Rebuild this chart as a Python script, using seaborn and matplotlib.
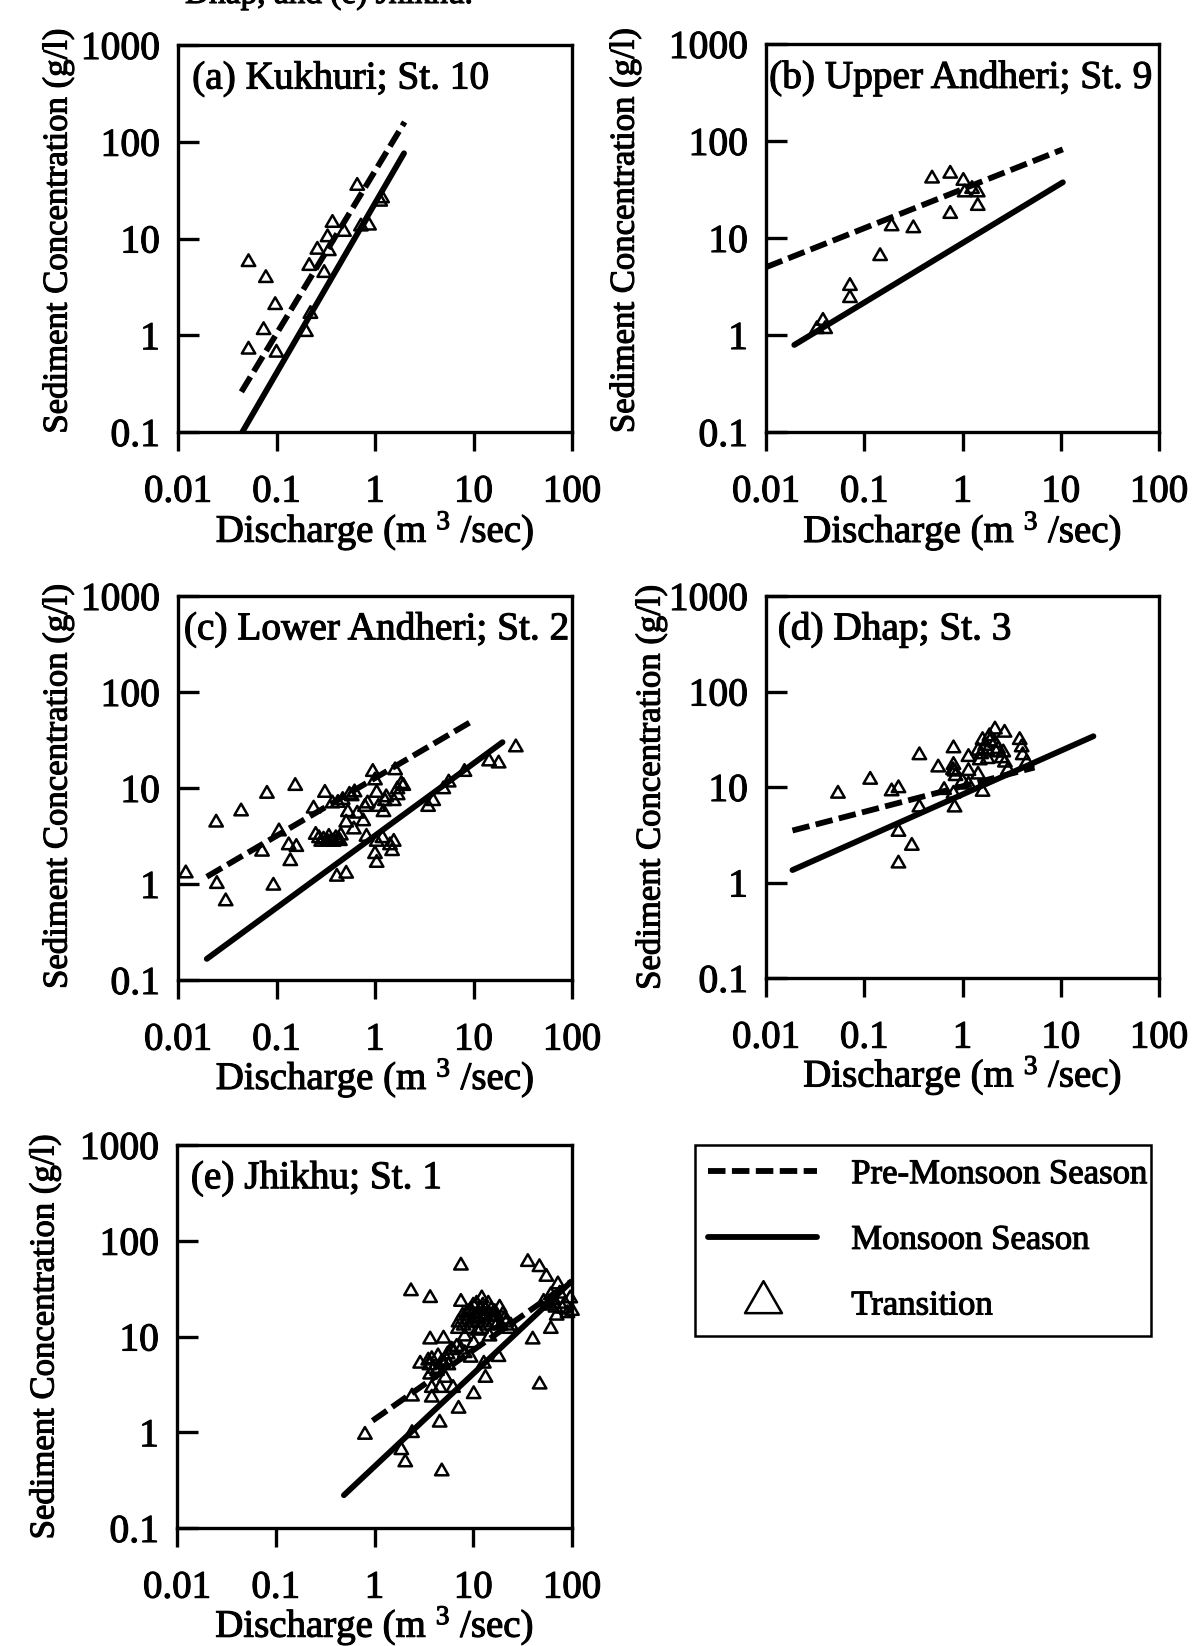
import matplotlib
matplotlib.use("Agg")
import matplotlib.pyplot as plt
import matplotlib.patheffects as pe
from matplotlib.lines import Line2D
from matplotlib.markers import MarkerStyle
from matplotlib.path import Path
from matplotlib.ticker import NullLocator
import seaborn as sns

# ---------------- data ----------------
panel_titles = ["(a) Kukhuri; St. 10", "(b) Upper Andheri; St. 9",
                "(c) Lower Andheri; St. 2", "(d) Dhap; St. 3", "(e) Jhikhu; St. 1"]

# transition-period samples: discharge (m3/s) and sediment concentration (g/l)
a_q = [0.052, 0.078, 0.097, 0.074, 0.052, 0.100, 0.199, 0.221, 0.215, 0.26,
       0.305, 0.34, 0.33, 0.37, 0.485, 0.66, 0.72, 0.87, 1.13, 1.18]
a_c = [5.7, 3.9, 2.05, 1.13, 0.71, 0.66, 1.08, 1.66, 5.2, 7.65,
       4.4, 7.4, 10.3, 14.5, 11.7, 35, 13.3, 13.6, 24, 26]

b_q = [0.033, 0.038, 0.040, 0.0715, 0.0715, 0.145, 0.19, 0.316, 0.49, 0.75,
       0.75, 1.02, 1.05, 1.25, 1.43, 1.43]
b_c = [1.15, 1.4, 1.15, 3.2, 2.4, 6.5, 13.2, 12.6, 41, 46,
       17.7, 38.8, 29.5, 32, 29.5, 21.4]

c_q = [0.012, 0.0244, 0.0248, 0.0305, 0.0437, 0.0713, 0.080, 0.093, 0.106, 0.133,
       0.138, 0.159, 0.155, 0.238, 0.25, 0.284, 0.31, 0.33, 0.37, 0.38,
       0.40, 0.41, 0.44, 0.51, 0.51, 0.53, 0.55, 0.61, 0.66, 0.76,
       0.79, 0.84, 0.82, 0.95, 1.04, 1.08, 1.04, 1.00, 1.04, 1.19,
       1.22, 1.26, 1.42, 1.49, 1.55, 1.55, 1.69, 1.94, 3.46, 3.9,
       4.94, 5.6, 8.1, 14.4, 18.0, 26.9, 1.6, 1.0,
       0.27, 0.30, 0.34, 0.36, 0.42, 0.45, 0.42, 0.47, 0.58, 0.62,
       1.7, 1.85, 1.3]
c_c = [1.29, 4.36, 1.0, 0.66, 5.7, 2.17, 8.7, 0.96, 3.53, 2.53,
       1.73, 2.43, 10.5, 6.1, 3.25, 2.75, 8.9, 2.75, 6.9, 2.75,
       3.0, 1.19, 2.8, 1.28, 4.36, 5.6, 8.5, 3.7, 5.4, 4.5,
       6.35, 6.9, 3.1, 14.7, 8.9, 6.35, 2.75, 2.05, 1.66, 3.0,
       5.6, 7.3, 2.53, 2.2, 2.75, 7.3, 9.7, 10.5, 6.35, 7.3,
       9.7, 11.4, 14.7, 18.9, 18.0, 26.5, 15.3, 12.0,
       3.0, 2.9, 3.1, 2.8, 2.9, 3.2, 7.0, 7.5, 8.2, 9.0,
       8.4, 11.0, 8.0]

d_q = [0.054, 0.115, 0.223, 0.19, 0.223, 0.305, 0.223, 0.364, 0.364, 0.566,
       0.65, 0.81, 0.81, 0.83, 0.81, 0.83, 1.0, 1.15, 1.15, 1.15,
       1.44, 1.6, 1.6, 1.8, 1.8, 1.88, 2.14, 2.14, 2.2, 2.68,
       2.6, 2.7, 2.9, 3.82, 4.0, 4.1, 4.5, 1.44,
       1.55, 1.7, 1.9, 2.3, 2.5, 1.5, 0.8, 0.85]
d_c = [8.5, 11.9, 9.7, 9.0, 3.39, 2.42, 1.58, 21.5, 6.1, 16,
       9.3, 25.4, 17, 14.5, 8.5, 6.1, 11.4, 20.6, 14.7, 10.6,
       13.5, 8.9, 31, 24, 19.6, 34, 40, 29, 23, 37,
       23, 18, 15, 31, 26, 21.5, 18, 24,
       22, 27, 30, 25, 20, 19, 15, 13]

e_q = [0.80, 1.87, 2.05, 2.34, 2.4, 3.66, 3.66, 4.57, 4.8, 2.4,
       3.5, 3.66, 3.8, 3.8, 4.3, 5.0, 5.2, 5.4, 6.25, 7.1,
       7.5, 7.5, 7.1, 7.5, 8.2, 9.4, 9.7, 10.1, 10.1, 11,
       11.5, 12.2, 12.8, 12.8, 13.3, 14.6, 15.2, 15.9, 17.3, 18,
       19, 20.6, 22.8, 7.8, 8.6, 6.0, 5.0, 35.7, 46.8, 55,
       40, 47, 61, 61, 61, 72, 80, 96, 100, 51.6,
       70, 2.9, 11, 10, 13.3, 7.0, 8.2, 9.4, 5.6, 4.6,
       8.0, 8.8, 9.2, 10.5, 11.2, 11.8, 12.5, 13.0, 13.8, 14.2,
       15.0, 16.5, 17.5, 18.5, 20, 21.5, 24, 9.0, 10.8, 12.0,
       3.6, 3.8, 4.0, 4.4, 4.8, 5.5, 6.2, 6.8,
       58, 65, 68, 75, 85, 90]
e_c = [0.94, 0.65, 0.485, 29.7, 0.98, 25.2, 9.3, 1.26, 0.39, 2.36,
       5.6, 4.0, 2.9, 2.3, 4.35, 9.5, 3.7, 5.6, 2.9, 1.76,
       55, 23, 14, 7.3, 6.7, 19, 14, 2.5, 8.5, 11.5,
       17, 25, 15, 5.2, 3.7, 10, 19, 14, 16.5, 6.1,
       13, 15, 12, 16.5, 17.5, 7.3, 5.2, 60, 53, 42,
       9.3, 3.15, 27, 21, 12, 35, 19.5, 25, 18.5, 23,
       16.5, 5.2, 16, 21, 19, 12, 10, 6, 5, 2.9,
       13, 15, 12, 16, 14, 19, 21, 17, 13, 22,
       16, 18, 13.5, 20, 17, 14, 13, 18, 22, 12,
       5.0, 5.8, 4.6, 6.2, 5.4, 6.5, 7.2, 7.8,
       22, 24, 20, 28, 22, 17.5]

# rating-curve end points (discharge, concentration) for each season
pre_q = [[0.044, 2.0], [0.01, 10.5], [0.0196, 10.1], [0.0186, 5.4], [0.955, 100]]
pre_c = [[0.26, 160], [5.0, 82], [1.19, 51], [3.5, 16], [1.32, 38]]
mon_q = [[0.045, 1.97], [0.0194, 10.5], [0.0196, 19.7], [0.0186, 21.5], [0.49, 96]]
mon_c = [[0.10, 76], [0.79, 37.5], [0.166, 30], [1.35, 34], [0.22, 36.6]]

tick_q = [0.01, 0.1, 1, 10, 100]
tick_q_labels = ["0.01", "0.1", "1", "10", "100"]
tick_c = [0.1, 1, 10, 100, 1000]
tick_c_labels = ["0.1", "1", "10", "100", "1000"]
legend_labels = ["Pre-Monsoon Season", "Monsoon Season", "Transition"]

samples_q = [a_q, b_q, c_q, d_q, e_q]
samples_c = [a_c, b_c, c_c, d_c, e_c]

# ---------------- style ----------------
sns.set_theme(style="white")
plt.rcParams["font.family"] = ["Liberation Serif", "DejaVu Serif"]
plt.rcParams["mathtext.fontset"] = "custom"
plt.rcParams["mathtext.rm"] = "Liberation Serif"
plt.rcParams["mathtext.default"] = "regular"
for key in ["text.color", "axes.labelcolor", "xtick.color", "ytick.color"]:
    plt.rcParams[key] = "black"

# slightly heavier text strokes, like a printed page
INK = [pe.withStroke(linewidth=0.8, foreground="black")]

W, H = 1193, 1646
fig = plt.figure(figsize=(W / 100, H / 100), dpi=100)
fig.patch.set_facecolor("white")

# equilateral open triangle
tri = MarkerStyle(Path([(0, 1.0), (-0.866, -0.5), (0.866, -0.5), (0, 1.0)],
                       [Path.MOVETO, Path.LINETO, Path.LINETO, Path.CLOSEPOLY]))

# axes boxes in pixels: left, top, right, bottom
boxes = [(178, 45, 572, 432), (766, 44, 1159, 432),
         (178, 596, 572, 980), (766, 596, 1159, 978),
         (177, 1145, 572, 1528)]
title_x = [0.036, 0.008, 0.015, 0.03, 0.035]
ylabel_x = [-0.305, -0.359, -0.305, -0.293, -0.335]
ylabel_y = [0.52, 0.52, 0.505, 0.5, 0.5]

DASH = (0, (3.0, 1.1))
LW = 4.2

for i, (l, t, r, b) in enumerate(boxes):
    ax = fig.add_axes([l / W, 1 - b / H, (r - l) / W, (b - t) / H])
    ax.set_xscale("log")
    ax.set_yscale("log")
    ax.set_xlim(0.01, 100)
    ax.set_ylim(0.1, 1000)

    sns.lineplot(x=pre_q[i], y=pre_c[i], ax=ax, color="black", lw=LW,
                 linestyle=DASH, sort=False, estimator=None, zorder=3)
    sns.lineplot(x=mon_q[i], y=mon_c[i], ax=ax, color="black", lw=LW,
                 sort=False, estimator=None, zorder=3)
    sns.scatterplot(x=samples_q[i], y=samples_c[i], ax=ax, marker=tri, s=125,
                    facecolor="none", edgecolor="black", linewidth=1.8,
                    zorder=4, clip_on=False)

    ax.set_xticks(tick_q)
    ax.set_xticklabels(tick_q_labels)
    ax.set_yticks(tick_c)
    ax.set_yticklabels(tick_c_labels)
    ax.xaxis.set_minor_locator(NullLocator())
    ax.yaxis.set_minor_locator(NullLocator())
    ax.tick_params(axis="x", direction="out", length=14, width=2.4, pad=16,
                   labelsize=28, bottom=True, top=False)
    ax.tick_params(axis="y", direction="in", length=15, width=2.4, pad=13,
                   labelsize=28.5, left=True, right=False)
    for sp in ax.spines.values():
        sp.set_linewidth(2.4)
        sp.set_color("black")
        sp.set_visible(True)

    ax.set_xlabel(r"Discharge (m $^{3}$ /sec)", fontsize=28)
    ax.xaxis.set_label_coords(0.5, -0.255)
    ax.xaxis.label.set_va("center")
    ax.set_ylabel("Sediment Concentration (g/l)", fontsize=25)
    ax.yaxis.set_label_coords(ylabel_x[i], ylabel_y[i])
    ax.yaxis.label.set_va("center")

    title = ax.text(title_x[i], 0.912, panel_titles[i], transform=ax.transAxes,
                    ha="left", va="center", fontsize=28.3)
    for txt in ([title, ax.xaxis.label, ax.yaxis.label]
                + ax.get_xticklabels() + ax.get_yticklabels()):
        txt.set_path_effects(INK)

# legend
handles = [Line2D([], [], color="black", lw=LW, linestyle=DASH),
           Line2D([], [], color="black", lw=LW),
           Line2D([], [], color="black", marker=tri, markersize=30.7, ls="none",
                  mfc="none", mec="black", mew=1.8)]
lx0, ly0, lx1, ly1 = 695, 1145, 1151, 1333
leg = fig.legend(handles, legend_labels, loc="upper left",
                 bbox_to_anchor=(lx0 / W, 1 - ly1 / H, (lx1 - lx0) / W, (ly1 - ly0) / H),
                 mode="expand", frameon=True, fancybox=False, framealpha=1,
                 edgecolor="black", fontsize=25, handlelength=3.14,
                 handletextpad=0.98, labelspacing=0.94, borderpad=0.38,
                 borderaxespad=0)
leg.get_frame().set_linewidth(1.8)
for txt in leg.get_texts():
    txt.set_path_effects(INK)

# last line of the caption above, cut by the page edge
cap = fig.text(185 / W, 1 - 3 / H, "Dhap, and (e) Jhikhu.", fontsize=24,
               ha="left", va="baseline")
cap.set_path_effects(INK)

fig.savefig("out.png", dpi=100, facecolor="white")
